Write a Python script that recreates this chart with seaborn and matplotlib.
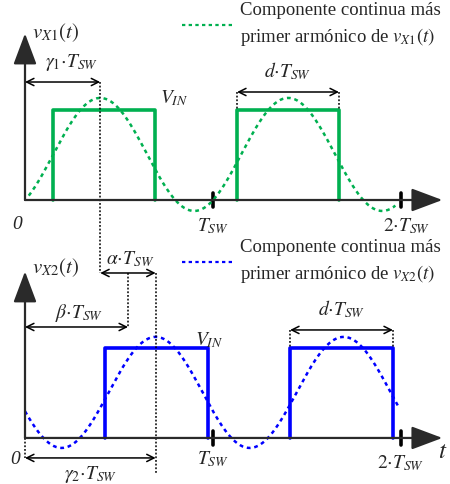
import numpy as np
import pandas as pd
import matplotlib
matplotlib.use('Agg')
import matplotlib.pyplot as plt
import seaborn as sns

# waveform values, time in units of T_SW, voltage in units of V_IN
pulse1_edges = [0.149, 0.69, 1.128, 1.67]
pulse2_edges = [0.428, 0.973, 1.41, 1.957]
sine1_mean, sine1_amp, sine1_peak, sine1_span = 0.506, 0.628, 0.40, (0.02, 1.97)
sine2_mean, sine2_amp, sine2_peak, sine2_span = 0.506, 0.617, 0.695, (0.0, 1.99)
gamma1, gamma2, beta = 0.40, 0.695, 0.548
panel_gap = -2.644  # vertical offset of the lower waveform

legend_lines = ['Componente continua más', 'primer armónico de ']
tick_labels = ['0', r'$T_{SW}$', r'$2{\cdot}T_{SW}$']

GREEN = '#00b050'
BLUE = '#0000ff'

sns.set_style('white')
plt.rcParams['font.family'] = ['Liberation Serif', 'DejaVu Serif']
plt.rcParams['mathtext.fontset'] = 'stix'

fig = plt.figure(figsize=(4.5, 4.84), dpi=100)
ax = fig.add_axes([0, 0, 1, 1])
ax.set_xlim(-25 / 188, 425 / 188)
ax.set_ylim(-284 / 90, 200 / 90)
ax.axis('off')


def pulse_df(edges, base):
    t, v, u = [], [], []
    for i, (a, b) in enumerate(zip(edges[::2], edges[1::2])):
        t += [a, a, b, b]
        v += [base, base + 1, base + 1, base]
        u += [i] * 4
    return pd.DataFrame({'t': t, 'v': v, 'pulse': u})


def sine_df(mean, amp, peak, span, base):
    t = np.linspace(span[0], span[1], 300)
    return pd.DataFrame({'t': t, 'v': base + mean + amp * np.cos(2 * np.pi * (t - peak))})


def harrow(x0, x1, y):
    ax.annotate('', xy=(x1, y), xytext=(x0, y),
                arrowprops=dict(arrowstyle='<->', color='black', lw=1.1,
                                shrinkA=0, shrinkB=0, mutation_scale=13))


def vdot(x, y0, y1):
    ax.plot([x, x], [y0, y1], color='black', ls=(0, (1.2, 1.2)), lw=1.1)


def axes_arrows(base, ytop):
    kw = dict(arrowstyle='-|>,head_length=0.8,head_width=0.3', color='#2a2a2a',
              lw=1.6, shrinkA=0, shrinkB=0, mutation_scale=24)
    ax.annotate('', xy=(2.22, base), xytext=(0, base), arrowprops=kw)
    ax.annotate('', xy=(0, base + ytop), xytext=(0, base), arrowprops=kw)
    for k in (1, 2):
        ax.plot([k, k], [base - 0.08, base + 0.08], color='black', lw=2.6)


fs = 14
for base, color, edges, sine, name in [
        (0, GREEN, pulse1_edges, (sine1_mean, sine1_amp, sine1_peak, sine1_span), 'X1'),
        (panel_gap, BLUE, pulse2_edges, (sine2_mean, sine2_amp, sine2_peak, sine2_span), 'X2')]:
    axes_arrows(base, 1.85)
    sns.lineplot(data=sine_df(*sine, base), x='t', y='v', ax=ax, color=color,
                 lw=1.8, ls=(0, (1.5, 1.5)), sort=False, estimator=None)
    sns.lineplot(data=pulse_df(edges, base), x='t', y='v', units='pulse', ax=ax,
                 color=color, lw=2.6, sort=False, estimator=None)
    # d*T_SW on the second pulse
    harrow(edges[2], edges[3], base + 1.2)
    vdot(edges[2], base + 1.2, base + 1.0)
    vdot(edges[3], base + 1.2, base + 1.0)
    ax.text((edges[2] + edges[3]) / 2, base + 1.43, r'$d{\cdot}T_{SW}$',
            ha='center', va='center', fontsize=fs)
    # legend
    ly = base + (1.944 if base == 0 else 1.956)
    ax.plot([0.835, 1.10], [ly, ly], color=color, lw=1.6, ls=(0, (1.5, 1.5)))
    ax.text(1.144, ly + 0.16, legend_lines[0], ha='left', va='center', fontsize=13.5)
    ax.text(1.144, ly - 0.13, legend_lines[1] + r'$v_{' + name + r'}(t)$',
            ha='left', va='center', fontsize=13.5)
    ax.text(0.037, base + (1.86 if base == 0 else 1.89), r'$v_{' + name + r'}(t)$',
            ha='left', va='center', fontsize=fs + 1)

# tick labels
ax.text(-0.043, -0.27, tick_labels[0], ha='center', va='center', fontsize=fs, style='italic')
ax.text(1.0, -0.29, tick_labels[1], ha='center', va='center', fontsize=fs)
ax.text(2.03, -0.29, tick_labels[2], ha='center', va='center', fontsize=fs)
ax.text(-0.053, panel_gap - 0.24, tick_labels[0], ha='center', va='center', fontsize=fs, style='italic')
ax.text(1.0, panel_gap - 0.23, tick_labels[1], ha='center', va='center', fontsize=fs)
ax.text(2.0, panel_gap - 0.28, tick_labels[2], ha='center', va='center', fontsize=fs)
ax.text(2.22, panel_gap - 0.16, r'$t$', ha='center', va='center', fontsize=fs + 4)

# V_IN labels
ax.text(0.72, 1.13, r'$V_{IN}$', ha='left', va='center', fontsize=fs)
ax.text(0.904, panel_gap + 1.09, r'$V_{IN}$', ha='left', va='center', fontsize=fs)

# upper phase annotation
harrow(0, gamma1, 1.311)
ax.text(gamma1 / 2 + 0.05, 1.53, r'$\gamma_1{\cdot}T_{SW}$', ha='center', va='center', fontsize=fs)
y_alpha = panel_gap + 1.833
vdot(gamma1, 1.311, y_alpha)

# lower phase annotations
harrow(gamma1, gamma2, y_alpha)
ax.text(0.56, panel_gap + 1.99, r'$\alpha{\cdot}T_{SW}$', ha='center', va='center', fontsize=fs)
y_beta = panel_gap + 1.233
vdot(beta, y_alpha, y_beta)
harrow(0, beta, y_beta)
ax.text(0.29, panel_gap + 1.39, r'$\beta{\cdot}T_{SW}$', ha='center', va='center', fontsize=fs)
y_g2 = panel_gap - 0.222
vdot(gamma2, y_alpha, panel_gap - 0.39)
vdot(0, panel_gap, y_g2)
harrow(0, gamma2, y_g2)
ax.text(0.35, panel_gap - 0.41, r'$\gamma_2{\cdot}T_{SW}$', ha='center', va='center', fontsize=fs)

fig.savefig('out.png', dpi=100)
